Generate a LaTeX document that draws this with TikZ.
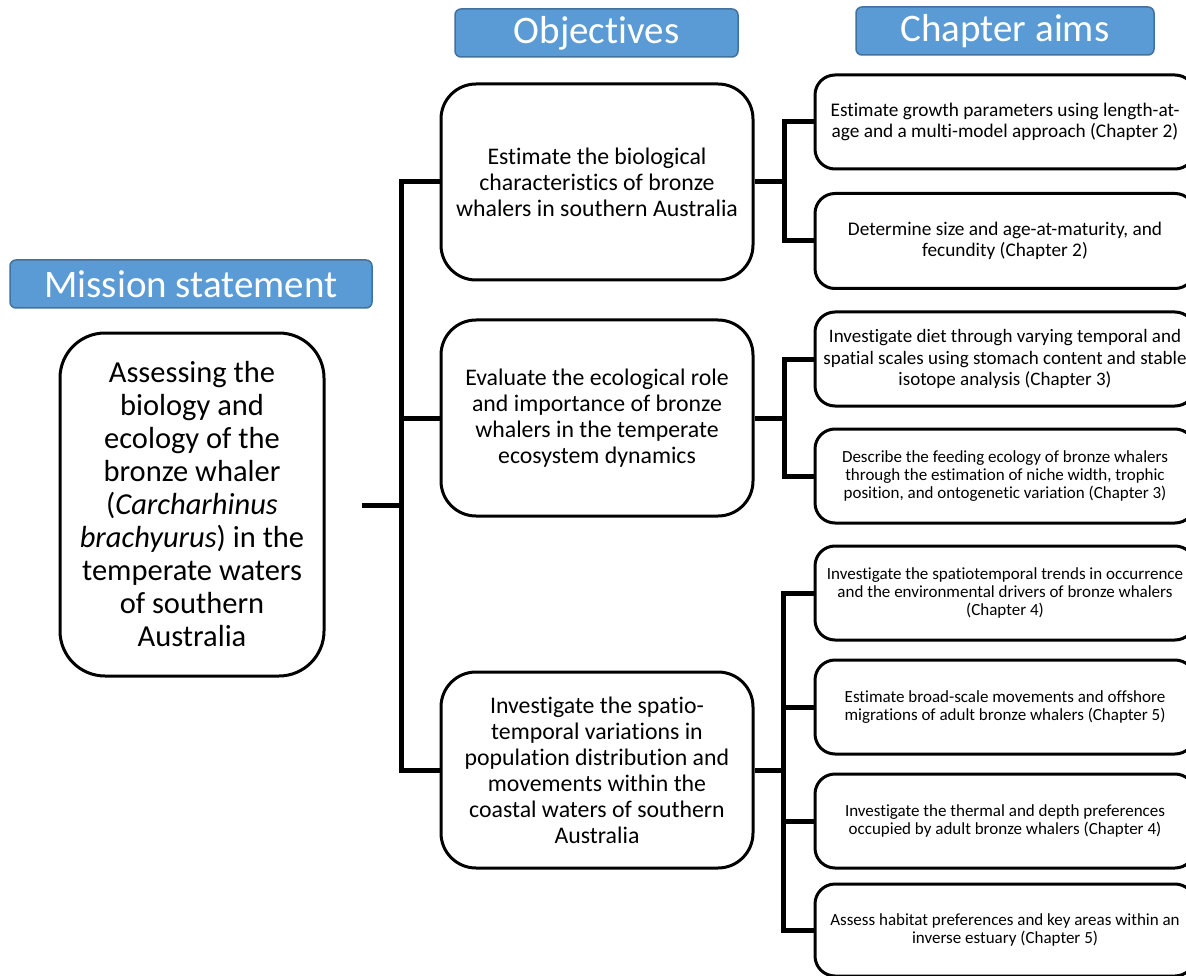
\documentclass[tikz,border=0pt]{standalone}
\usepackage{fontspec}
\setmainfont[Ligatures=NoCommon]{Carlito}
\definecolor{hdrfill}{HTML}{5B9BD5}
\definecolor{hdrline}{HTML}{41719C}
\begin{document}
\begin{tikzpicture}[x=1pt,y=-1pt,
  hdr/.style={draw=hdrline,fill=hdrfill,line width=1.5pt,rounded corners=6pt,inner sep=0pt,text=white,font=\fontsize{39}{44}\selectfont},
  missionbox/.style={draw,line width=3pt,rounded corners=45pt,inner sep=0pt,align=center,minimum width=264pt,minimum height=343pt,font=\fontsize{30.5}{33}\selectfont},
  objbox/.style={draw,line width=3pt,rounded corners=35pt,inner sep=0pt,align=center,minimum width=312pt,minimum height=196pt,font=\fontsize{23.8}{26}\selectfont},
  chbox/.style={draw,line width=3pt,rounded corners=20pt,inner sep=0pt,align=center,minimum width=380pt,minimum height=94pt},
  chbig/.style={font=\fontsize{19.3}{21}\selectfont},
  chsmall/.style={font=\fontsize{17}{18.3}\selectfont},
  conn/.style={line width=5pt}
]
\useasboundingbox (0,0) rectangle (1186,976);
\clip (0,0) rectangle (1186,976);
\fill[white] (0,0) rectangle (1186,976);

% headers
\node[hdr,minimum width=283pt,minimum height=48pt] (hobj) at (596.5,33) {Objectives};
\node[hdr,minimum width=298pt,minimum height=48pt] (hch) at (1005,31) {Chapter aims};
\node[hdr,minimum width=362pt,minimum height=48pt] (hmis) at (191,284) {Mission statement};

% mission
\node[missionbox] (mis) at (192,504.5) {Assessing the\\biology and\\ecology of the\\bronze whaler\\(\textit{Carcharhinus}\\\textit{brachyurus}) in the\\temperate waters\\of southern\\Australia};

% objectives
\node[objbox] (obj1) at (597,182) {Estimate the biological\\characteristics of bronze\\whalers in southern Australia};
\node[objbox] (obj2) at (597,418) {Evaluate the ecological role\\and importance of bronze\\whalers in the temperate\\ecosystem dynamics};
\node[objbox] (obj3) at (597,770) {Investigate the spatio-\\temporal variations in\\population distribution and\\movements within the\\coastal waters of southern\\Australia};

% chapter aims
\node[chbox,chbig,minimum height=94pt] (ch1) at (1005,122) {Estimate growth parameters using length-at-\\age and a multi-model approach (Chapter 2)};
\node[chbox,chbig,minimum height=95pt] (ch2) at (1005,241) {Determine size and age-at-maturity, and\\fecundity (Chapter 2)};
\node[chbox,font=\fontsize{19}{21.5}\selectfont,minimum height=94pt] (ch3) at (1005,359) {Investigate diet through varying temporal and\\spatial scales using stomach content and stable\\isotope analysis (Chapter 3)};
\node[chbox,chsmall,minimum height=94pt] (ch4) at (1005,476) {Describe the feeding ecology of bronze whalers\\through the estimation of niche width, trophic\\position, and ontogenetic variation (Chapter 3)};
\node[chbox,chsmall,minimum height=94pt] (ch5) at (1005,593) {Investigate the spatiotemporal trends in occurrence\\and the environmental drivers of bronze whalers\\(Chapter 4)};
\node[chbox,chsmall,minimum height=94pt] (ch6) at (1005,707) {Estimate broad-scale movements and offshore\\migrations of adult bronze whalers (Chapter 5)};
\node[chbox,chsmall,minimum height=94pt] (ch7) at (1005,821) {Investigate the thermal and depth preferences\\occupied by adult bronze whalers (Chapter 4)};
\node[chbox,chsmall,minimum height=92pt] (ch8) at (1005,930) {Assess habitat preferences and key areas within an\\inverse estuary (Chapter 5)};

% connectors
\coordinate (m0) at (362,505);
\coordinate (m1) at (401,505);
\coordinate (j1) at (784,182);
\coordinate (j2) at (784,418);
\coordinate (j3) at (783,770);

\draw[conn] (m0) -- (m1);
\draw[conn] (obj1.west) -| (m1) |- (obj3.west);
\draw[conn] (obj2.west) -- (obj2.west -| m1);

\draw[conn] (obj1.east) -- (j1);
\draw[conn] (ch1.west) -| (j1) |- (ch2.west);

\draw[conn] (obj2.east) -- (j2);
\draw[conn] (ch3.west) -| (j2) |- (ch4.west);

\draw[conn] (obj3.east) -- (j3);
\draw[conn] (ch5.west) -| (j3) |- (ch8.west);
\draw[conn] (ch6.west) -- (ch6.west -| j3);
\draw[conn] (ch7.west) -- (ch7.west -| j3);
\end{tikzpicture}
\end{document}
